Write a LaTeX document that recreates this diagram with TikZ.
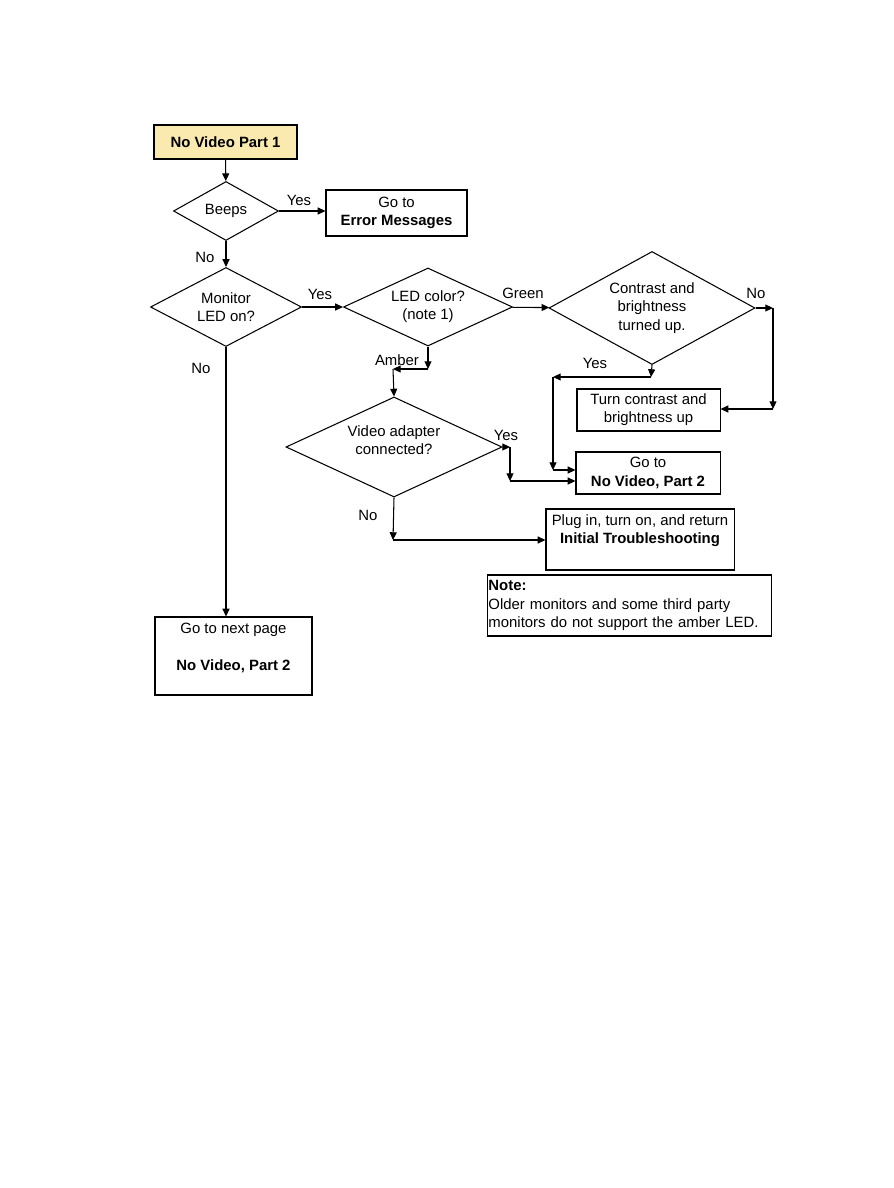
\documentclass[tikz,border=0pt]{standalone}
\usepackage{fontspec}
\setmainfont{Liberation Sans}
\usetikzlibrary{arrows.meta,shapes.geometric}
\definecolor{StartYellow}{RGB}{250,234,176}
\tikzset{
  box/.style={draw, rectangle, inner sep=1pt, align=center},
  choice/.style={draw, diamond, inner sep=0pt, align=center},
  lbl/.style={inner sep=1pt},
}

\begin{document}
\begin{tikzpicture}[x=0.025cm, y=-0.025cm, line width=0.75pt,
    >={Triangle[length=5.5pt,width=5pt]}, font=\fontsize{10.6}{13}\selectfont]
  \useasboundingbox (0,0) rectangle (893,1188);
  % boxes
  \node[box, fill=StartYellow, minimum width=3.575cm, minimum height=0.85cm] (start) at (225.5,142) {\textbf{No Video Part 1}};
  \node[box, minimum width=3.525cm, minimum height=1.15cm] (err) at (396.5,213) {Go to\\\textbf{Error Messages}};
  \node[box, minimum width=3.575cm, minimum height=1.05cm] (turn) at (648.5,410) {Turn contrast and\\brightness up};
  \node[box, minimum width=3.6cm, minimum height=1.05cm] (go) at (648,473) {Go to\\\textbf{No Video, Part 2}};
  \node[box, minimum width=4.7cm, minimum height=1.525cm] (plug) at (640,539.5) {Plug in, turn on, and return\\\textbf{Initial Troubleshooting}\\[2pt]~};
  \node[box, align=left, text width=7.05cm, minimum height=1.525cm] (note) at (629.5,605.5) {\textbf{Note:}\\Older monitors and some third party\\monitors do not support the amber LED.};
  \node[box, minimum width=3.925cm, minimum height=1.95cm] (next) at (233.5,656) {Go to next page\\~\\\textbf{No Video, Part 2}\\~};
  % decisions
  \node[choice, aspect=1.78, minimum width=2.625cm, minimum height=1.475cm] (beeps) at (226,211) {Beeps};
  \node[choice, aspect=1.9, minimum width=3.775cm, minimum height=1.975cm] (mon) at (226,307) {Monitor\\LED on?};
  \node[choice, aspect=2.17, minimum width=4.225cm, minimum height=1.95cm] (led) at (428,307) {LED color?\\(note 1)};
  \node[choice, aspect=1.82, minimum width=5.15cm, minimum height=2.825cm] (cont) at (652,308) {Contrast and\\brightness\\turned up.};
  \node[choice, aspect=2.16, minimum width=5.4cm, minimum height=2.5cm] (vid) at (394,447) {Video adapter\\connected?\\[-3pt]~};
  % bends
  \coordinate (amA) at (428,369);
  \coordinate (amB) at (393,369);
  \coordinate (noA) at (773,308);
  \coordinate (noB) at (773,409);
  \coordinate (ysA) at (651,377);
  \coordinate (ysB) at (553,377);
  \coordinate (ysC) at (553,470);
  \coordinate (vyA) at (510,447);
  \coordinate (vyB) at (510,481);
  \coordinate (vnA) at (393,540);
  % connectors
  \draw[->] (start) -- (beeps);
  \draw[->] (beeps.east) -- (beeps.east -| err.west);
  \draw[->] (beeps) -- (mon);
  \draw[->] (mon) -- (led);
  \draw[->] (mon.south) -- (mon.south |- next.north);
  \draw[->] (led) -- (cont);
  \draw[->] (led.south) -- (amA);
  \draw[->] (amA) -- (amB);
  \draw[->] (amB) -- (vid.north);
  \draw[->] (cont.east) -- (noA);
  \draw[->] (noA) -- (noB);
  \draw[->] (noB) -- (noB -| turn.east);
  \draw[->] (cont.south) -- (ysA);
  \draw[->] (ysA) -- (ysB);
  \draw[->] (ysB) -- (ysC);
  \draw[->] (ysC) -- (ysC -| go.west);
  \draw[->] (vid.east) -- (vyA);
  \draw[->] (vyA) -- (vyB);
  \draw[->] (vyB) -- (vyB -| go.west);
  \draw[->] (vid.south) -- (vnA);
  \draw[->] (vnA) -- (vnA -| plug.west);
  % labels
  \node[lbl] (l1) at (299,200) {Yes};
  \node[lbl] (l2) at (205,257) {No};
  \node[lbl] (l3) at (320,294) {Yes};
  \node[lbl] (l4) at (201,368) {No};
  \node[lbl] (l5) at (523,293) {Green};
  \node[lbl] (l6) at (756,293) {No};
  \node[lbl] (l7) at (397,360) {Amber};
  \node[lbl] (l8) at (595,363) {Yes};
  \node[lbl] (l9) at (506,435) {Yes};
  \node[lbl] (l10) at (368,515) {No};
\end{tikzpicture}
\end{document}
